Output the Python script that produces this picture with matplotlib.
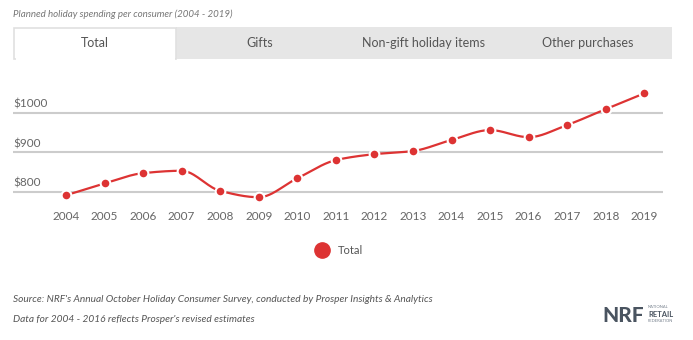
import numpy as np
import matplotlib
matplotlib.use("Agg")
import matplotlib.pyplot as plt
from matplotlib.patches import Rectangle

years = [2004, 2005, 2006, 2007, 2008, 2009, 2010, 2011, 2012, 2013, 2014, 2015, 2016, 2017, 2018, 2019]
total = [791, 821, 847, 853, 802, 786, 834, 880, 895, 903, 931, 956, 938, 969, 1009, 1049]
y_ticks = [800, 900, 1000]
y_tick_labels = ["$800", "$900", "$1000"]
tabs = ["Total", "Gifts", "Non-gift holiday items", "Other purchases"]

W, H = 693, 340
RED = "#dd3333"
plt.rcParams['font.family'] = ['Lato', 'DejaVu Sans']

fig = plt.figure(figsize=(W / 100, H / 100), dpi=100)

def fx(px):
    return px / W

def fy(py):
    return 1 - py / H

# title
fig.text(fx(13), fy(14), "Planned holiday spending per consumer (2004 - 2019)",
         fontsize=7, style='italic', color='#777777', va='center', ha='left')

# tabs
fig.patches.append(Rectangle((fx(176), fy(59)), fx(672 - 176), (59 - 27) / H,
                             transform=fig.transFigure, facecolor='#e6e6e6', edgecolor='none'))
fig.patches.append(Rectangle((fx(14), fy(59)), fx(176 - 14), (59 - 28) / H,
                             transform=fig.transFigure, facecolor='white', edgecolor='#e0e0e0', lw=1.2))
fig.patches.append(Rectangle((fx(15.5), fy(61)), fx(176 - 17), 4 / H,
                             transform=fig.transFigure, facecolor='white', edgecolor='none'))
tab_x = [95, 260, 424, 588]
for t, x in zip(tabs, tab_x):
    fig.text(fx(x), fy(43), t, fontsize=9, color='#555555', ha='center', va='center')

# axes
top_px, bot_px = 60, 200
ax = fig.add_axes([fx(13), fy(bot_px), fx(663 - 13), (bot_px - top_px) / H])
px_per_unit = 39.5 / 100
ax.set_ylim(800 - (bot_px - 191.7) / px_per_unit, 1000 + (112.7 - top_px) / px_per_unit)
step = (644.3 - 66) / 15
ax.set_xlim(2004 - (66 - 13) / step, 2019 + (663 - 644.3) / step)
ax.axis('off')

for v, lab in zip(y_ticks, y_tick_labels):
    ax.axhline(v, color='#cccccc', lw=1.5, zorder=1)
    ax.annotate(lab, xy=(0, v), xycoords=('axes fraction', 'data'),
                xytext=(0, 2), textcoords='offset points',
                fontsize=8.5, color='#666666', ha='left', va='bottom')

for yr in years:
    ax.text(yr, (bot_px - 216.7) / (bot_px - top_px), str(yr), transform=ax.get_xaxis_transform(),
            fontsize=8.5, color='#666666', ha='center', va='center')

# monotone cubic smoothing for the drawn line
x = np.array(years, dtype=float)
y = np.array(total, dtype=float)
h = np.diff(x)
d = np.diff(y) / h
m = np.zeros_like(y)
m[0], m[-1] = d[0], d[-1]
for i in range(1, len(y) - 1):
    if d[i - 1] * d[i] <= 0:
        m[i] = 0
    else:
        m[i] = 2 / (1 / d[i - 1] + 1 / d[i])
xs, ys = [], []
for i in range(len(x) - 1):
    t = np.linspace(0, 1, 30)
    h00 = 2 * t**3 - 3 * t**2 + 1
    h10 = t**3 - 2 * t**2 + t
    h01 = -2 * t**3 + 3 * t**2
    h11 = t**3 - t**2
    xs.append(x[i] + t * h[i])
    ys.append(h00 * y[i] + h10 * h[i] * m[i] + h01 * y[i + 1] + h11 * h[i] * m[i + 1])
xs = np.concatenate(xs)
ys = np.concatenate(ys)
ax.plot(xs, ys, color=RED, lw=1.6, zorder=3, solid_capstyle='round')
ax.plot(x, y, 'o', color=RED, ms=7, mec='white', mew=1.5, zorder=4, clip_on=False)

# legend
fig.add_artist(plt.Line2D([fx(322)], [fy(250)], marker='o', color=RED, ms=11,
                          transform=fig.transFigure, lw=0))
fig.text(fx(338), fy(250), "Total", fontsize=8, color='#555555', ha='left', va='center')

# footer
fig.text(fx(13), fy(300), "Source: NRF's Annual October Holiday Consumer Survey, conducted by Prosper Insights & Analytics",
         fontsize=7.3, style='italic', color='#555555', ha='left', va='center')
fig.text(fx(13), fy(320), "Data for 2004 - 2016 reflects Prosper's revised estimates",
         fontsize=7.3, style='italic', color='#555555', ha='left', va='center')

# logo
fig.text(fx(602), fy(315), "NRF", fontsize=15, fontweight='black', color='#4a5460',
         ha='left', va='center')
fig.text(fx(648), fy(307.5), "NATIONAL", fontsize=3, color='#7a8490', ha='left', va='center')
fig.text(fx(648), fy(314.5), "RETAIL", fontsize=5.5, fontweight='bold', color='#4a5460', ha='left', va='center')
fig.text(fx(648), fy(320.5), "FEDERATION", fontsize=3, color='#7a8490', ha='left', va='center')

fig.savefig("out.png", dpi=100, facecolor='white')
